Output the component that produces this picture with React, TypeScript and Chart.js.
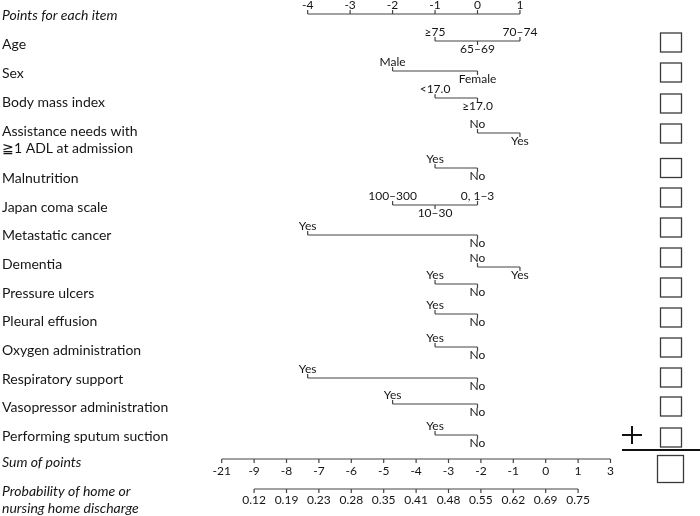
import { useEffect, useRef } from 'react';
import { Chart, registerables } from 'chart.js';
Chart.register(...registerables);

// ---------- data ----------
const ITEM_NAMES = [
  'Age', 'Sex', 'Body mass index', 'Assistance needs with\n≧1 ADL at admission', 'Malnutrition',
  'Japan coma scale', 'Metastatic cancer', 'Dementia', 'Pressure ulcers', 'Pleural effusion',
  'Oxygen administration', 'Respiratory support', 'Vasopressor administration', 'Performing sputum suction',
];
const AGE_LEVELS = ['≥75', '65–69', '70–74'];
const AGE_POINTS = [-1, 0, 1];
const SEX_LEVELS = ['Male', 'Female'];
const SEX_POINTS = [-2, 0];
const BMI_LEVELS = ['<17.0', '≥17.0'];
const BMI_POINTS = [-1, 0];
const ADL_LEVELS = ['No', 'Yes'];
const ADL_POINTS = [0, 1];
const MALNUTRITION_LEVELS = ['Yes', 'No'];
const MALNUTRITION_POINTS = [-1, 0];
const JCS_LEVELS = ['100–300', '10–30', '0, 1–3'];
const JCS_POINTS = [-2, -1, 0];
const METASTATIC_LEVELS = ['Yes', 'No'];
const METASTATIC_POINTS = [-4, 0];
const DEMENTIA_LEVELS = ['No', 'Yes'];
const DEMENTIA_POINTS = [0, 1];
const PRESSURE_LEVELS = ['Yes', 'No'];
const PRESSURE_POINTS = [-1, 0];
const PLEURAL_LEVELS = ['Yes', 'No'];
const PLEURAL_POINTS = [-1, 0];
const OXYGEN_LEVELS = ['Yes', 'No'];
const OXYGEN_POINTS = [-1, 0];
const RESPIRATORY_LEVELS = ['Yes', 'No'];
const RESPIRATORY_POINTS = [-4, 0];
const VASOPRESSOR_LEVELS = ['Yes', 'No'];
const VASOPRESSOR_POINTS = [-2, 0];
const SPUTUM_LEVELS = ['Yes', 'No'];
const SPUTUM_POINTS = [-1, 0];

const POINT_TICKS = [-4, -3, -2, -1, 0, 1];
const SUM_TICKS = ['-21', '-9', '-8', '-7', '-6', '-5', '-4', '-3', '-2', '-1', '0', '1', '3'];
const PROB_TICKS = ['0.12', '0.19', '0.23', '0.28', '0.35', '0.41', '0.48', '0.55', '0.62', '0.69', '0.75'];
const PROB_OFFSET = 1; // probability ticks align with sum-axis positions 1..11

const LEVELS = [AGE_LEVELS, SEX_LEVELS, BMI_LEVELS, ADL_LEVELS, MALNUTRITION_LEVELS, JCS_LEVELS,
  METASTATIC_LEVELS, DEMENTIA_LEVELS, PRESSURE_LEVELS, PLEURAL_LEVELS, OXYGEN_LEVELS,
  RESPIRATORY_LEVELS, VASOPRESSOR_LEVELS, SPUTUM_LEVELS];
const POINTS = [AGE_POINTS, SEX_POINTS, BMI_POINTS, ADL_POINTS, MALNUTRITION_POINTS, JCS_POINTS,
  METASTATIC_POINTS, DEMENTIA_POINTS, PRESSURE_POINTS, PLEURAL_POINTS, OXYGEN_POINTS,
  RESPIRATORY_POINTS, VASOPRESSOR_POINTS, SPUTUM_POINTS];

// ---------- layout (style) ----------
// label side per level: 1 = above line, -1 = below line
const SIDES = [[1, -1, 1], [1, -1], [1, -1], [1, -1], [1, -1], [1, -1, 1], [1, -1], [1, -1],
  [1, -1], [1, -1], [1, -1], [1, -1], [1, -1], [1, -1]];
const NAME_Y = [44, 73, 102, 131, 178, 207, 235, 264, 293, 321, 350, 379, 407, 436];
const LINE_Y = [41, 71, 98, 133, 168, 205, 235, 267, 284, 314, 347, 378, 404, 435];
const BOX_Y = [42.5, 72.5, 103.5, 133.5, 168, 197.5, 227.5, 257.5, 287.5, 317.5, 347.5, 377.5, 406.5, 437.5];
const POINTS_AXIS_Y = 14;
const SUM_AXIS_Y = 459;
const PROB_AXIS_Y = 489;
const TICK = 4;
const W = 700, H = 516;
const FONT = 'Lato, "Open Sans", sans-serif';
const LINE_COLOR = '#444';
const TEXT_COLOR = '#151515';

function segs(vals: number[], y: number, dirs: number[]) {
  const d: any[] = [];
  vals.forEach((v, i) => {
    d.push({ x: v, y }, { x: v, y: y - dirs[i] * TICK }, { x: v, y: null });
  });
  return d;
}

export default function App() {
  const ref = useRef<HTMLCanvasElement>(null);
  useEffect(() => {
    if (!ref.current) return;
    const datasets: any[] = [];
    const base = { showLine: true, spanGaps: false, pointRadius: 0, borderColor: LINE_COLOR, borderWidth: 1.2, xAxisID: 'x' };
    // points axis
    datasets.push({ ...base, data: [{ x: Math.min(...POINT_TICKS), y: POINTS_AXIS_Y }, { x: Math.max(...POINT_TICKS), y: POINTS_AXIS_Y }] });
    datasets.push({ ...base, data: segs(POINT_TICKS, POINTS_AXIS_Y, POINT_TICKS.map(() => 1)) });
    // items
    POINTS.forEach((pts, i) => {
      datasets.push({ ...base, data: [{ x: Math.min(...pts), y: LINE_Y[i] }, { x: Math.max(...pts), y: LINE_Y[i] }] });
      datasets.push({ ...base, data: segs(pts, LINE_Y[i], SIDES[i]) });
    });
    // sum axis
    const sumIdx = SUM_TICKS.map((_, i) => i);
    datasets.push({ ...base, xAxisID: 'xs', data: [{ x: 0, y: SUM_AXIS_Y }, { x: SUM_TICKS.length - 1, y: SUM_AXIS_Y }] });
    datasets.push({ ...base, xAxisID: 'xs', data: segs(sumIdx, SUM_AXIS_Y, sumIdx.map(() => -1)) });
    const probIdx = PROB_TICKS.map((_, i) => i + PROB_OFFSET);
    datasets.push({ ...base, xAxisID: 'xs', data: [{ x: probIdx[0], y: PROB_AXIS_Y }, { x: probIdx[probIdx.length - 1], y: PROB_AXIS_Y }] });
    datasets.push({ ...base, xAxisID: 'xs', data: segs(probIdx, PROB_AXIS_Y, probIdx.map(() => -1)) });

    const textPlugin = {
      id: 'nomoText',
      afterDatasetsDraw(chart: any) {
        const ctx = chart.ctx as CanvasRenderingContext2D;
        const sx = chart.scales.x, ss = chart.scales.xs, sy = chart.scales.y;
        ctx.save();
        ctx.fillStyle = TEXT_COLOR;
        ctx.textBaseline = 'middle';
        // item names
        ctx.textAlign = 'left';
        ctx.font = `italic 14px ${FONT}`;
        ctx.fillText('Points for each item', 2, sy.getPixelForValue(15));
        ctx.fillText('Sum of points', 2, sy.getPixelForValue(462));
        ctx.fillText('Probability of home or', 2, sy.getPixelForValue(491));
        ctx.fillText('nursing home discharge', 2, sy.getPixelForValue(508));
        ctx.font = `14px ${FONT}`;
        ITEM_NAMES.forEach((n, i) => {
          n.split('\n').forEach((ln, k) => ctx.fillText(ln, 2, sy.getPixelForValue(NAME_Y[i] + k * 17)));
        });
        // tick labels
        ctx.textAlign = 'center';
        ctx.font = `12px ${FONT}`;
        POINT_TICKS.forEach((v) => ctx.fillText(String(v), sx.getPixelForValue(v), sy.getPixelForValue(POINTS_AXIS_Y - 9)));
        LEVELS.forEach((lv, i) => {
          lv.forEach((t, j) => {
            const y = SIDES[i][j] > 0 ? LINE_Y[i] - 9 : LINE_Y[i] + 8;
            ctx.fillText(t, sx.getPixelForValue(POINTS[i][j]), sy.getPixelForValue(y));
          });
        });
        SUM_TICKS.forEach((t, i) => ctx.fillText(t, ss.getPixelForValue(i), sy.getPixelForValue(SUM_AXIS_Y + 12)));
        PROB_TICKS.forEach((t, i) => ctx.fillText(t, ss.getPixelForValue(i + PROB_OFFSET), sy.getPixelForValue(PROB_AXIS_Y + 11)));
        // score boxes
        ctx.strokeStyle = '#3a3a3a';
        ctx.lineWidth = 1.3;
        BOX_Y.forEach((y) => ctx.strokeRect(660.5, y - 9.5, 21, 19));
        ctx.strokeRect(657.5, 455.5, 26, 27);
        // plus sign & sum bar
        ctx.strokeStyle = '#111';
        ctx.lineWidth = 2;
        ctx.beginPath();
        ctx.moveTo(622, 435); ctx.lineTo(642, 435);
        ctx.moveTo(632, 426); ctx.lineTo(632, 444);
        ctx.moveTo(622, 450); ctx.lineTo(700, 450);
        ctx.stroke();
        ctx.restore();
      },
    };

    // scale ranges chosen so the axes fall where the reference places them
    const pUnit = 42.46, p0 = 477.5;
    const sUnit = 32.4, s0 = 221.7;
    const chart = new Chart(ref.current, {
      type: 'scatter',
      data: { datasets },
      options: {
        animation: false,
        responsive: false,
        devicePixelRatio: 1,
        layout: { padding: 0 },
        plugins: { legend: { display: false }, tooltip: { enabled: false } },
        scales: {
          x: { type: 'linear', min: -p0 / pUnit, max: (W - p0) / pUnit, display: false },
          xs: { type: 'linear', axis: 'x', min: -s0 / sUnit, max: (W - s0) / sUnit, display: false },
          y: { type: 'linear', min: 0, max: H, reverse: true, display: false },
        },
      },
      plugins: [textPlugin],
    });
    return () => chart.destroy();
  }, []);
  return (
    <div style={{ position: 'absolute', left: 0, top: 0, width: W, height: H, background: '#fff' }}>
      <canvas ref={ref} width={W} height={H} />
    </div>
  );
}
